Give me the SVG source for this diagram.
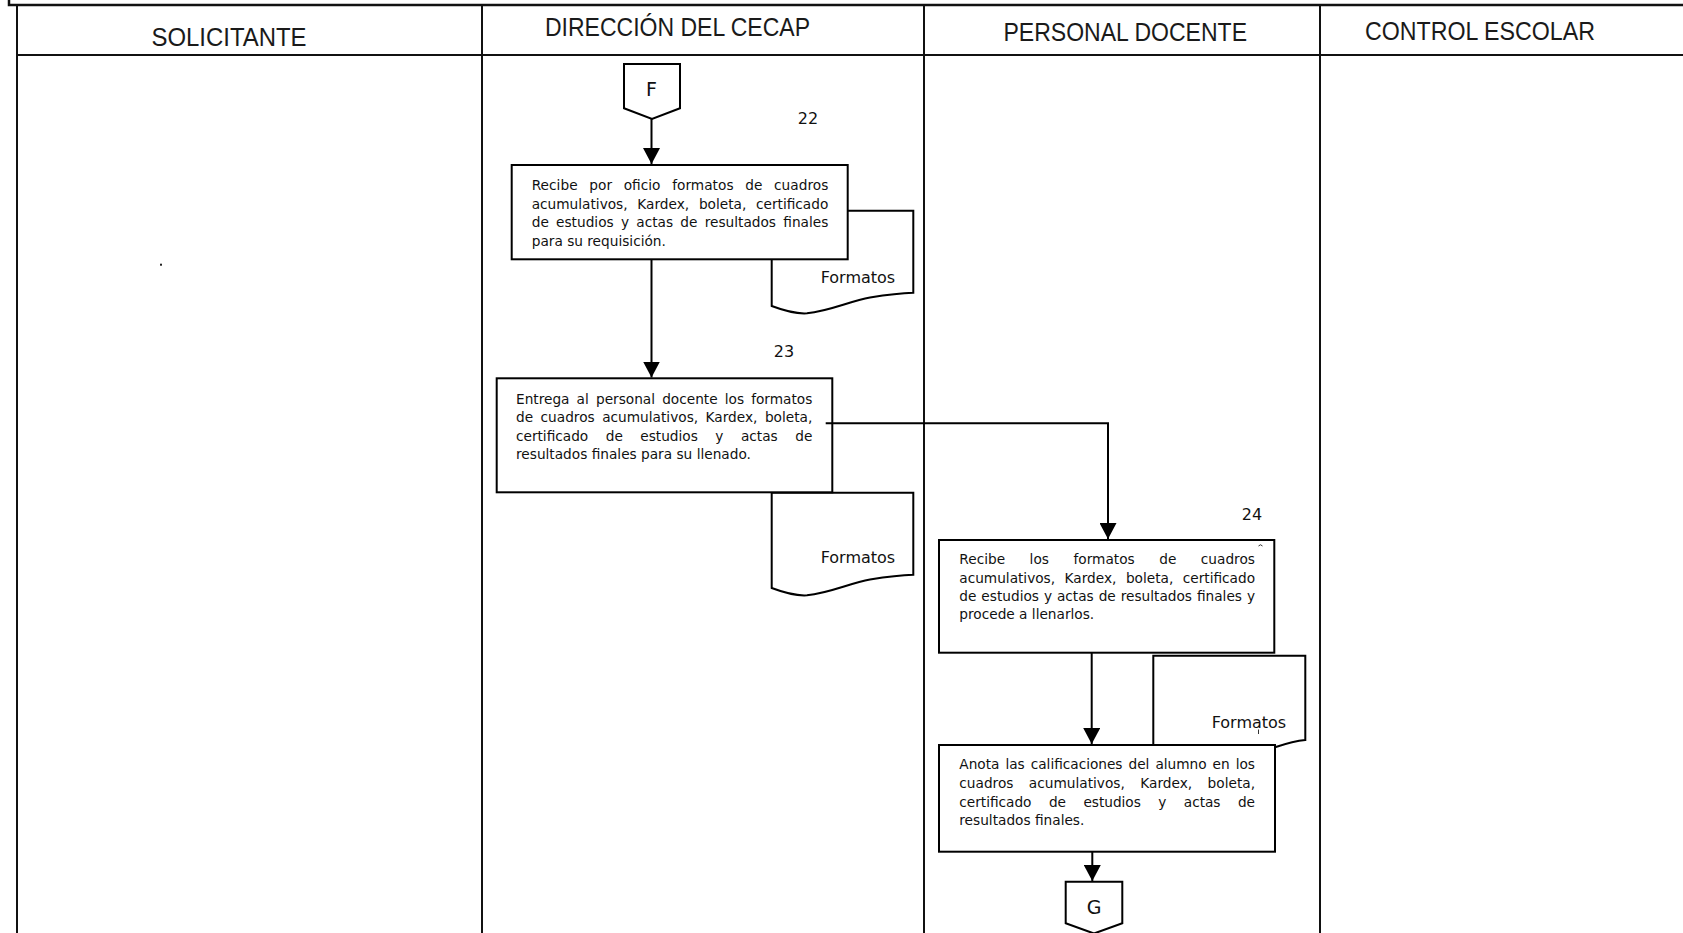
<svg xmlns="http://www.w3.org/2000/svg" width="1683" height="933" viewBox="0 0 1683 933">
  <style>
    .frame{stroke:#111;stroke-width:2.5;fill:none}
    .lane{stroke:#111;stroke-width:2;fill:none}
    .hdr{font-family:"Liberation Sans",Arial,sans-serif;font-size:26px;fill:#1a1a1a}
    .box{fill:#fff;stroke:#000;stroke-width:2}
    .doc{fill:#fff;stroke:#000;stroke-width:2}
    .txt{font-family:"DejaVu Sans",Verdana,sans-serif;font-size:13.7px;fill:#111}
    .lbl{font-family:"DejaVu Sans",Verdana,sans-serif;font-size:16px;fill:#111}
    .big{font-family:"DejaVu Sans",Verdana,sans-serif;font-size:19px;fill:#111;text-anchor:middle}
    .num{font-family:"DejaVu Sans",Verdana,sans-serif;font-size:16px;fill:#111;text-anchor:middle}
    .conn{stroke:#000;stroke-width:2;fill:none}
  </style>
  <defs>
    <marker id="arrow" markerUnits="userSpaceOnUse" markerWidth="17" markerHeight="17" refX="16" refY="8.5" orient="auto">
      <path d="M0,0 L16,8.5 L0,17 Z" fill="#000"/>
    </marker>
  </defs>

  <!-- page frame and swimlane grid -->
  <g id="lanes">
    <path class="frame" d="M9,0 V5 H1683"/>
    <line class="lane" x1="17" y1="5" x2="17" y2="933"/>
    <line class="lane" x1="17" y1="55" x2="1683" y2="55"/>
    <line class="lane" x1="482" y1="5" x2="482" y2="933"/>
    <line class="lane" x1="924" y1="5" x2="924" y2="933"/>
    <line class="lane" x1="1320" y1="5" x2="1320" y2="933"/>
    <text class="hdr" x="151.5" y="45.7" textLength="155" lengthAdjust="spacingAndGlyphs">SOLICITANTE</text>
    <text class="hdr" x="545" y="35.7" textLength="265" lengthAdjust="spacingAndGlyphs">DIRECCIÓN DEL CECAP</text>
    <text class="hdr" x="1003.5" y="41.3" textLength="243.5" lengthAdjust="spacingAndGlyphs">PERSONAL DOCENTE</text>
    <text class="hdr" x="1365" y="40.2" textLength="230" lengthAdjust="spacingAndGlyphs">CONTROL ESCOLAR</text>
    <rect x="160" y="263.7" width="2" height="2" fill="#222"/>
  </g>

  <!-- off-page connector F -->
  <g id="node-F">
    <path class="box" d="M624,64 H680 V108.3 L652,119 L624,108.3 Z"/>
    <text class="big" x="651.5" y="96">F</text>
  </g>

  <!-- step 22 -->
  <g id="node-22">
    <path class="doc" d="M771.7,210.7 H913.3 V292.7 C900,293 885,295 870,297.5 C850,301 830,311 807,313.3 C797,314 785,311 771.7,306 Z"/>
    <text class="lbl" x="820.7" y="282.7">Formatos</text>
    <rect class="box" x="511.7" y="165" width="336" height="94.3"/>
    <text class="txt" x="531.7" y="190" word-spacing="7.3" textLength="296.6">Recibe por oficio formatos de cuadros</text>
    <text class="txt" x="531.7" y="208.7" word-spacing="5.4" textLength="296.6">acumulativos, Kardex, boleta, certificado</text>
    <text class="txt" x="531.7" y="227.4" word-spacing="2.9" textLength="296.6">de estudios y actas de resultados finales</text>
    <text class="txt" x="531.7" y="246.1">para su requisición.</text>
    <text class="num" x="808" y="124">22</text>
  </g>

  <!-- step 23 -->
  <g id="node-23">
    <path class="doc" d="M771.7,492.7 H913.3 V574.7 C900,575 885,577 870,579.5 C850,583 830,593 807,595.3 C797,596 785,593 771.7,588 Z"/>
    <text class="lbl" x="820.7" y="563.3">Formatos</text>
    <rect class="box" x="496.7" y="378.3" width="335.6" height="114"/>
    <text class="txt" x="516" y="404" word-spacing="2.8" textLength="296.3">Entrega al personal docente los formatos</text>
    <text class="txt" x="516" y="422.3" word-spacing="3.1" textLength="296.3">de cuadros acumulativos, Kardex, boleta,</text>
    <text class="txt" x="516" y="440.6" word-spacing="13.2" textLength="296.3">certificado de estudios y actas de</text>
    <text class="txt" x="516" y="458.9">resultados finales para su llenado.</text>
    <text class="num" x="784" y="357">23</text>
  </g>

  <!-- step 24 -->
  <g id="node-24">
    <rect class="box" x="939" y="540" width="335.3" height="112.7"/>
    <path d="M1258.5,546 Q1260.5,543.5 1262.5,546" fill="none" stroke="#333" stroke-width="1"/>
    <text class="txt" x="959.3" y="564" word-spacing="20" textLength="295.7">Recibe los formatos de cuadros</text>
    <text class="txt" x="959.3" y="582.5" word-spacing="5.2" textLength="295.7">acumulativos, Kardex, boleta, certificado</text>
    <text class="txt" x="959.3" y="601" word-spacing="0.6" textLength="295.7">de estudios y actas de resultados finales y</text>
    <text class="txt" x="959.3" y="619.4">procede a llenarlos.</text>
    <text class="num" x="1252" y="520">24</text>
    <path class="doc" d="M1153.3,655.7 H1305.3 V740 C1292,741 1282,745 1270,749 C1250,755 1220,760 1190,756 C1175,754 1160,752 1153.3,749 Z"/>
    <text class="lbl" x="1211.7" y="728.3">Formatos</text>
    <line x1="1258.5" y1="729.5" x2="1258.5" y2="734" stroke="#333" stroke-width="1"/>
  </g>

  <!-- step 25 -->
  <g id="node-25">
    <rect class="box" x="939" y="745" width="336" height="106.7"/>
    <text class="txt" x="959.3" y="769.3" word-spacing="1.7" textLength="295.7">Anota las calificaciones del alumno en los</text>
    <text class="txt" x="959.3" y="788" word-spacing="11.1" textLength="295.7">cuadros acumulativos, Kardex, boleta,</text>
    <text class="txt" x="959.3" y="806.7" word-spacing="13.1" textLength="295.7">certificado de estudios y actas de</text>
    <text class="txt" x="959.3" y="825.4">resultados finales.</text>
  </g>

  <!-- off-page connector G -->
  <g id="node-G">
    <path class="box" d="M1065.7,881.7 H1122.3 V923.3 L1094,933.5 L1065.7,923.3 Z"/>
    <text class="big" x="1094" y="913.5">G</text>
  </g>

  <!-- flow connectors -->
  <g id="connectors">
    <path class="conn" d="M651.5,119 V164" marker-end="url(#arrow)"/>
    <path class="conn" d="M651.5,259.3 V377.5" marker-end="url(#arrow)"/>
    <path class="conn" d="M825.7,423.3 H1108 V539" marker-end="url(#arrow)"/>
    <path class="conn" d="M1091.7,652.7 V744" marker-end="url(#arrow)"/>
    <path class="conn" d="M1092.3,851.7 V881" marker-end="url(#arrow)"/>
  </g>
</svg>
